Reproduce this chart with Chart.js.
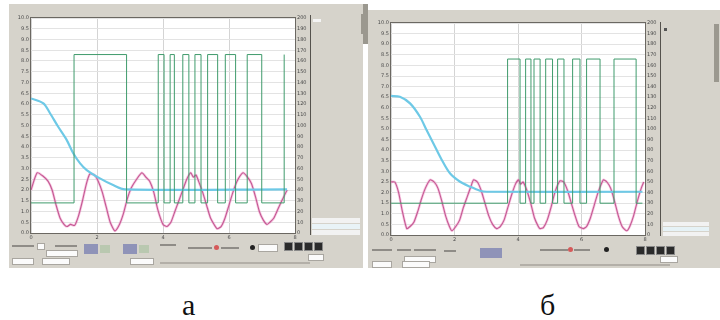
<!DOCTYPE html>
<html>
<head>
<meta charset="utf-8">
<script src="https://cdn.jsdelivr.net/npm/chart.js@4.4.0/dist/chart.umd.min.js"></script>
<style>
body { margin: 0; width: 720px; height: 320px; background: #fff; position: relative; overflow: hidden; font-family: "DejaVu Sans", sans-serif; }
.panel { position: absolute; background: #d6d3cb; }
.r { position: absolute; }
.w { position: absolute; background: #fbfbfb; border: 1px solid #a9a6a0; }
.k { position: absolute; background: #2b2b2b; border: 1px solid #8a8a8a; }
.t { position: absolute; height: 2px; background: #8f8c87; }
.lbl { position: absolute; font-family: "Liberation Serif", serif; font-size: 30px; line-height: 30px; color: #111; }
canvas { position: absolute; }
</style>
</head>
<body>

<!-- окно а -->
<div class="panel" style="left:9px;top:4px;width:354px;height:264px;"></div>
<div class="r" style="left:310px;top:15px;width:1px;height:220px;background:#55524d;"></div>
<div class="r" style="left:313px;top:19px;width:8px;height:3px;background:#f4f4f4;"></div>
<div class="r" style="left:312px;top:218px;width:48px;height:5px;background:#f2f2f2;"></div>
<div class="r" style="left:312px;top:224px;width:48px;height:5px;background:#e9f3f7;"></div>
<div class="r" style="left:312px;top:230px;width:48px;height:5px;background:#f2f2f2;"></div>
<div class="r" style="left:363px;top:4px;width:5px;height:40px;background:#9b988f;"></div>
<div class="t" style="left:12px;top:245px;width:22px;"></div>
<div class="w" style="left:37px;top:243px;width:6px;height:5px;"></div>
<div class="t" style="left:55px;top:245px;width:22px;"></div>
<div class="w" style="left:46px;top:250px;width:30px;height:5px;"></div>
<div class="r" style="left:84px;top:244px;width:14px;height:10px;background:#8f93b8;"></div>
<div class="r" style="left:100px;top:245px;width:10px;height:8px;background:#b9c8b0;"></div>
<div class="r" style="left:123px;top:244px;width:14px;height:10px;background:#8f93b8;"></div>
<div class="r" style="left:139px;top:245px;width:10px;height:8px;background:#b9c8b0;"></div>
<div class="t" style="left:160px;top:244px;width:16px;"></div>
<div class="t" style="left:188px;top:247px;width:24px;"></div>
<div class="r" style="left:214px;top:245px;width:5px;height:5px;border-radius:3px;background:#d55a5a;"></div>
<div class="t" style="left:221px;top:247px;width:18px;"></div>
<div class="r" style="left:250px;top:245px;width:5px;height:5px;border-radius:3px;background:#222;"></div>
<div class="w" style="left:258px;top:244px;width:18px;height:6px;"></div>
<div class="k" style="left:284px;top:242px;width:7px;height:7px;"></div>
<div class="k" style="left:294px;top:242px;width:7px;height:7px;"></div>
<div class="k" style="left:304px;top:242px;width:7px;height:7px;"></div>
<div class="k" style="left:314px;top:242px;width:7px;height:7px;"></div>
<div class="w" style="left:308px;top:254px;width:14px;height:5px;"></div>
<div class="w" style="left:12px;top:258px;width:20px;height:5px;"></div>
<div class="w" style="left:42px;top:258px;width:26px;height:5px;"></div>
<div class="w" style="left:130px;top:258px;width:22px;height:5px;"></div>
<div class="t" style="left:160px;top:262px;width:150px;background:#b3afa8;"></div>

<!-- окно б -->
<div class="panel" style="left:368px;top:10px;width:352px;height:258px;"></div>
<div class="r" style="left:660px;top:22px;width:1px;height:214px;background:#55524d;"></div>
<div class="r" style="left:664px;top:28px;width:3px;height:3px;background:#555;"></div>
<div class="r" style="left:663px;top:222px;width:46px;height:4px;background:#f2f2f2;"></div>
<div class="r" style="left:663px;top:227px;width:46px;height:4px;background:#e6f2f6;"></div>
<div class="r" style="left:663px;top:232px;width:46px;height:4px;background:#f2f2f2;"></div>
<div class="r" style="left:714px;top:24px;width:5px;height:58px;background:#9b988f;"></div>
<div class="r" style="left:361px;top:14px;width:5px;height:20px;background:#9b988f;"></div>
<div class="t" style="left:372px;top:249px;width:20px;"></div>
<div class="t" style="left:397px;top:249px;width:14px;"></div>
<div class="t" style="left:414px;top:249px;width:22px;"></div>
<div class="w" style="left:404px;top:256px;width:30px;height:5px;"></div>
<div class="t" style="left:444px;top:250px;width:12px;"></div>
<div class="r" style="left:480px;top:248px;width:22px;height:10px;background:#8f93b8;"></div>
<div class="t" style="left:540px;top:249px;width:28px;"></div>
<div class="r" style="left:568px;top:247px;width:5px;height:5px;border-radius:3px;background:#d55a5a;"></div>
<div class="t" style="left:574px;top:249px;width:16px;"></div>
<div class="r" style="left:604px;top:247px;width:5px;height:5px;border-radius:3px;background:#222;"></div>
<div class="k" style="left:636px;top:246px;width:7px;height:7px;"></div>
<div class="k" style="left:646px;top:246px;width:7px;height:7px;"></div>
<div class="k" style="left:656px;top:246px;width:7px;height:7px;"></div>
<div class="k" style="left:666px;top:246px;width:7px;height:7px;"></div>
<div class="w" style="left:660px;top:256px;width:16px;height:5px;"></div>
<div class="w" style="left:372px;top:261px;width:18px;height:5px;"></div>
<div class="w" style="left:402px;top:261px;width:26px;height:5px;"></div>
<div class="t" style="left:520px;top:264px;width:150px;background:#b3afa8;"></div>

<canvas id="chartA" width="300" height="248" style="left:9px;top:4px;width:300px;height:248px;"></canvas>
<canvas id="chartB" width="292" height="245" style="left:368px;top:10px;width:292px;height:245px;"></canvas>

<div class="lbl" style="left:182px;top:290px;">а</div>
<div class="lbl" style="left:540px;top:290px;">б</div>

<script>
// общие подписи осей
const xTickLabels = ['0', '2', '4', '6', '8'];

// --- а ---
const aPinkX = [0, 2.3, 4.5, 6.5, 8, 9.5, 11, 12.5, 13.6, 15, 16.5, 18, 19.5, 21, 22.3, 24, 25.5, 27, 28.5, 30, 31.8, 33.5, 35, 36.5, 38, 40, 42, 43.5, 45, 46.5, 48, 50, 51.5, 53, 54.5, 56, 57.5, 59, 60.5, 61.5, 62.5, 63.5, 65, 66.5, 68, 70.5, 72, 73.5, 75, 76.5, 78, 80.3, 82, 83.5, 85, 86.5, 88, 89.4, 90.5, 92, 93.5, 95, 97];
const aPinkY = [20, 28, 26.5, 24, 20, 13, 7, 4, 3, 4, 3.5, 8, 15, 23, 27.5, 27, 24, 19, 12, 5, 1, 4, 9, 16, 21, 25, 28, 26, 24, 19, 11, 4, 3, 5, 10, 15, 20, 25, 28, 26, 27, 24, 19, 13, 7, 2, 3, 7, 13, 19, 24, 28, 26, 23, 17, 10, 6, 4, 5, 7, 11, 15, 20];
const aCyanX = [0, 4.7, 7.2, 10.3, 13.5, 16, 18.6, 21.1, 26.1, 31.1, 35.6, 97];
const aCyanY = [62.6, 60.3, 55.7, 49.4, 43.3, 37.1, 32.4, 29.3, 25.4, 22.3, 20.3, 20.3];
const aGreenX = [0, 16.3, 36.2, 48.2, 50.4, 52.7, 54.3, 57.5, 59.8, 62.1, 64.4, 66.9, 70.7, 73.6, 77.5, 81.9, 87.4, 95.9];
const aGreenY = [14, 83, 14, 83, 14, 83, 14, 83, 14, 83, 14, 83, 14, 83, 14, 83, 14, 83];

// --- б ---
const bPinkX = [0, 1.5, 3, 4.5, 6.2, 7.5, 9, 10.5, 12, 13.5, 15.4, 17, 18.5, 20, 21.5, 23, 24, 25.5, 27, 28.5, 30, 31.5, 32.5, 34, 35.5, 37, 38.5, 40, 41.6, 43, 44.5, 46, 47.5, 49, 50.2, 51, 52, 53.5, 55, 56.5, 58, 58.7, 60, 61.5, 63, 64.5, 66.5, 68, 69.5, 71, 72.5, 74, 75.7, 77, 78.5, 80, 81.5, 83.6, 85, 86.5, 88, 89.5, 91, 92.8, 94, 95.5, 97, 98.5, 99.5];
const bPinkY = [25, 25, 20, 11, 3, 4, 6, 11, 17, 22, 26, 25, 22, 16, 9, 4, 2, 4, 7, 13, 18, 23, 26, 25, 21, 15, 9, 5, 3, 4, 7, 13, 19, 24, 26, 24, 25, 21, 15, 8, 4, 3, 3.5, 7, 13, 20, 25.5, 25, 21, 15, 9, 4, 3, 4, 8, 14, 20, 26, 25, 22, 16, 9, 4, 2, 4, 9, 16, 22, 25];
const bCyanX = [0, 3.5, 7.5, 11.4, 14, 16.7, 20, 23.2, 27.2, 31.1, 35, 37.7, 99];
const bCyanY = [65.6, 65.2, 62.1, 55.8, 49.5, 43.2, 35.4, 29.1, 25.1, 22.8, 20.9, 20.4, 20.4];
const bGreenX = [0, 45.9, 50.8, 53.0, 55.1, 56.3, 58.7, 60.9, 63.6, 65.6, 68.1, 71.5, 74.4, 77.0, 82.3, 87.8, 96.5, 99];
const bGreenY = [15, 83, 15, 83, 15, 83, 15, 83, 15, 83, 15, 83, 15, 83, 15, 83, 15, 15];

function pts(xs, ys) {
    return xs.map((x, i) => ({ x: x, y: ys[i] }));
}

// белое поле графика и рамка
const plotBg = {
    id: 'plotBg',
    beforeDraw(chart) {
        const { ctx, chartArea: a } = chart;
        ctx.save();
        ctx.fillStyle = '#ffffff';
        ctx.fillRect(a.left, a.top, a.width, a.height);
        ctx.restore();
    },
    afterDraw(chart) {
        const { ctx, chartArea: a } = chart;
        ctx.save();
        ctx.strokeStyle = '#6b6862';
        ctx.lineWidth = 1;
        ctx.strokeRect(a.left - 0.5, a.top - 0.5, a.width + 1, a.height + 1);
        ctx.restore();
    }
};

function makeChart(id, pinkX, pinkY, cyanX, cyanY, greenX, greenY, dims) {
    const tickFont = { family: 'DejaVu Sans', size: 5 };
    new Chart(document.getElementById(id), {
        type: 'line',
        data: {
            datasets: [
                {
                    data: pts(greenX, greenY),
                    borderColor: '#3f9b6c',
                    borderWidth: 1,
                    stepped: true,
                    pointRadius: 0
                },
                {
                    data: pts(cyanX, cyanY),
                    borderColor: '#6ec9e6',
                    borderWidth: 2.2,
                    tension: 0.3,
                    pointRadius: 0
                },
                {
                    data: pts(pinkX, pinkY),
                    borderColor: 'rgba(238, 130, 190, 0.45)',
                    borderWidth: 2.6,
                    tension: 0.2,
                    pointRadius: 0
                },
                {
                    data: pts(pinkX, pinkY),
                    borderColor: '#a3386f',
                    borderWidth: 1.1,
                    tension: 0.2,
                    pointRadius: 0
                }
            ]
        },
        options: {
            responsive: false,
            animation: false,
            layout: { padding: { top: dims.top, left: 0, right: 0, bottom: 0 } },
            plugins: {
                legend: { display: false },
                tooltip: { enabled: false }
            },
            scales: {
                x: {
                    type: 'linear',
                    min: 0,
                    max: 100,
                    ticks: {
                        stepSize: 25,
                        font: tickFont,
                        color: '#4a4a4a',
                        padding: 2,
                        callback: (v, i) => xTickLabels[i]
                    },
                    grid: { color: '#d4d4d4', drawTicks: false },
                    border: { display: false },
                    afterFit: s => { s.height = dims.xh; }
                },
                y: {
                    min: 0,
                    max: 100,
                    ticks: {
                        stepSize: 5,
                        autoSkip: false,
                        font: tickFont,
                        color: '#4a4a4a',
                        padding: 2,
                        callback: v => (v / 10).toFixed(1)
                    },
                    grid: { color: '#e3e3e3', drawTicks: false },
                    border: { display: false },
                    afterFit: s => { s.width = dims.yl; }
                },
                y2: {
                    position: 'right',
                    min: 0,
                    max: 100,
                    ticks: {
                        stepSize: 5,
                        autoSkip: false,
                        font: tickFont,
                        color: '#4a4a4a',
                        padding: 2,
                        callback: v => (v * 2).toFixed(0)
                    },
                    grid: { display: false, drawTicks: false },
                    border: { display: false },
                    afterFit: s => { s.width = dims.yr; }
                }
            }
        },
        plugins: [plotBg]
    });
}

makeChart('chartA', aPinkX, aPinkY, aCyanX, aCyanY, aGreenX, aGreenY, { top: 14, xh: 19, yl: 22, yr: 14 });
makeChart('chartB', bPinkX, bPinkY, bCyanX, bCyanY, bGreenX, bGreenY, { top: 13, xh: 20, yl: 23, yr: 15 });
</script>
</body>
</html>
